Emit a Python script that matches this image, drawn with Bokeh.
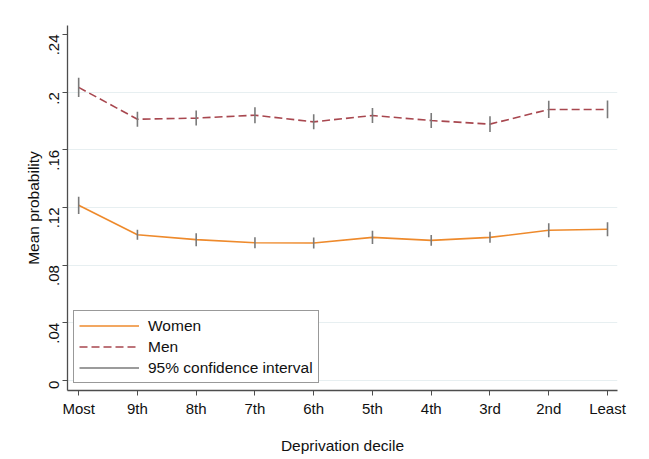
import math
from bokeh.plotting import figure
from bokeh.models import Range1d, FixedTicker, Legend, LegendItem, ColumnDataSource
from bokeh.embed import file_html
from bokeh.resources import INLINE

categories = ["Most", "9th", "8th", "7th", "6th", "5th", "4th", "3rd", "2nd", "Least"]
women = [0.1215, 0.1011, 0.0977, 0.0956, 0.0954, 0.0993, 0.0972, 0.0993, 0.1042, 0.1049]
women_ci = [0.0060, 0.0035, 0.0045, 0.0038, 0.0038, 0.0046, 0.0038, 0.0038, 0.0049, 0.0049]
men = [0.2033, 0.1812, 0.1820, 0.1840, 0.1794, 0.1838, 0.1803, 0.1778, 0.1880, 0.1880]
men_ci = [0.0067, 0.0052, 0.0052, 0.0055, 0.0052, 0.0052, 0.0052, 0.0055, 0.0060, 0.0062]
y_ticks = [0, 0.04, 0.08, 0.12, 0.16, 0.2, 0.24]
y_tick_labels = ["0", ".04", ".08", ".12", ".16", ".2", ".24"]

FONT = "Liberation Sans"
ORANGE = "#ee8a2c"
MAROON = "#a8474f"
GRAY = "#7a7a7a"
GRID = "#e7eff1"

xs = list(range(len(categories)))

p = figure(frame_width=550, frame_height=365, output_backend="svg", toolbar_location=None,
           x_range=Range1d(-0.19, 9.17), y_range=Range1d(-0.0069, 0.2462),
           min_border_left=67, min_border_right=20, min_border_top=25, min_border_bottom=64)
p.outline_line_color = None
p.background_fill_color = "white"
p.border_fill_color = "white"

p.xgrid.grid_line_color = None
p.ygrid.grid_line_color = GRID
p.ygrid.ticker = FixedTicker(ticks=y_ticks[:-1])

p.xaxis.ticker = FixedTicker(ticks=xs)
p.xaxis.major_label_overrides = {i: c for i, c in enumerate(categories)}
p.yaxis.ticker = FixedTicker(ticks=y_ticks)
p.yaxis.major_label_overrides = {t: l for t, l in zip(y_ticks, y_tick_labels)}
p.yaxis.major_label_orientation = math.pi / 2

for ax in (p.xaxis, p.yaxis):
    ax.axis_line_color = "#4d4d4d"
    ax.axis_line_width = 1.3
    ax.major_tick_line_color = "#4d4d4d"
    ax.major_tick_out = 5
    ax.major_tick_in = 0
    ax.minor_tick_line_color = None
    ax.major_label_text_font = FONT
    ax.major_label_text_font_size = "15px"
    ax.major_label_text_color = "#111111"
    ax.axis_label_text_font = FONT
    ax.axis_label_text_font_size = "15.5px"
    ax.axis_label_text_font_style = "normal"
    ax.axis_label_text_color = "#111111"

p.xaxis.axis_label = "Deprivation decile"
p.yaxis.axis_label = "Mean probability"
p.xaxis.major_label_standoff = 4
p.xaxis.axis_label_standoff = 17
p.yaxis.major_label_standoff = 8
p.yaxis.axis_label_standoff = 0

src = ColumnDataSource(dict(
    x=xs, w=women, m=men,
    wl=[v - e for v, e in zip(women, women_ci)], wh=[v + e for v, e in zip(women, women_ci)],
    ml=[v - e for v, e in zip(men, men_ci)], mh=[v + e for v, e in zip(men, men_ci)],
))

lw = p.line("x", "w", source=src, line_color=ORANGE, line_width=1.6)
lm = p.line("x", "m", source=src, line_color=MAROON, line_width=1.6, line_dash="8 4")
ci1 = p.segment("x", "wl", "x", "wh", source=src, line_color=GRAY, line_width=1.6)
p.segment("x", "ml", "x", "mh", source=src, line_color=GRAY, line_width=1.6)

legend = Legend(items=[
    LegendItem(label="Women", renderers=[lw]),
    LegendItem(label="Men", renderers=[lm]),
    LegendItem(label="95% confidence interval", renderers=[ci1]),
], location=(6, 7))
legend.label_text_font = FONT
legend.label_text_font_size = "15.5px"
legend.label_text_color = "#111111"
legend.glyph_width = 60
legend.glyph_height = 19
legend.label_height = 19
legend.label_standoff = 9
legend.spacing = 2
legend.padding = 5
legend.margin = 0
legend.border_line_color = "#333333"
legend.border_line_width = 1
legend.background_fill_color = "white"
legend.background_fill_alpha = 1
p.add_layout(legend, "center")

open("out.html", "w").write(file_html(p, INLINE))
